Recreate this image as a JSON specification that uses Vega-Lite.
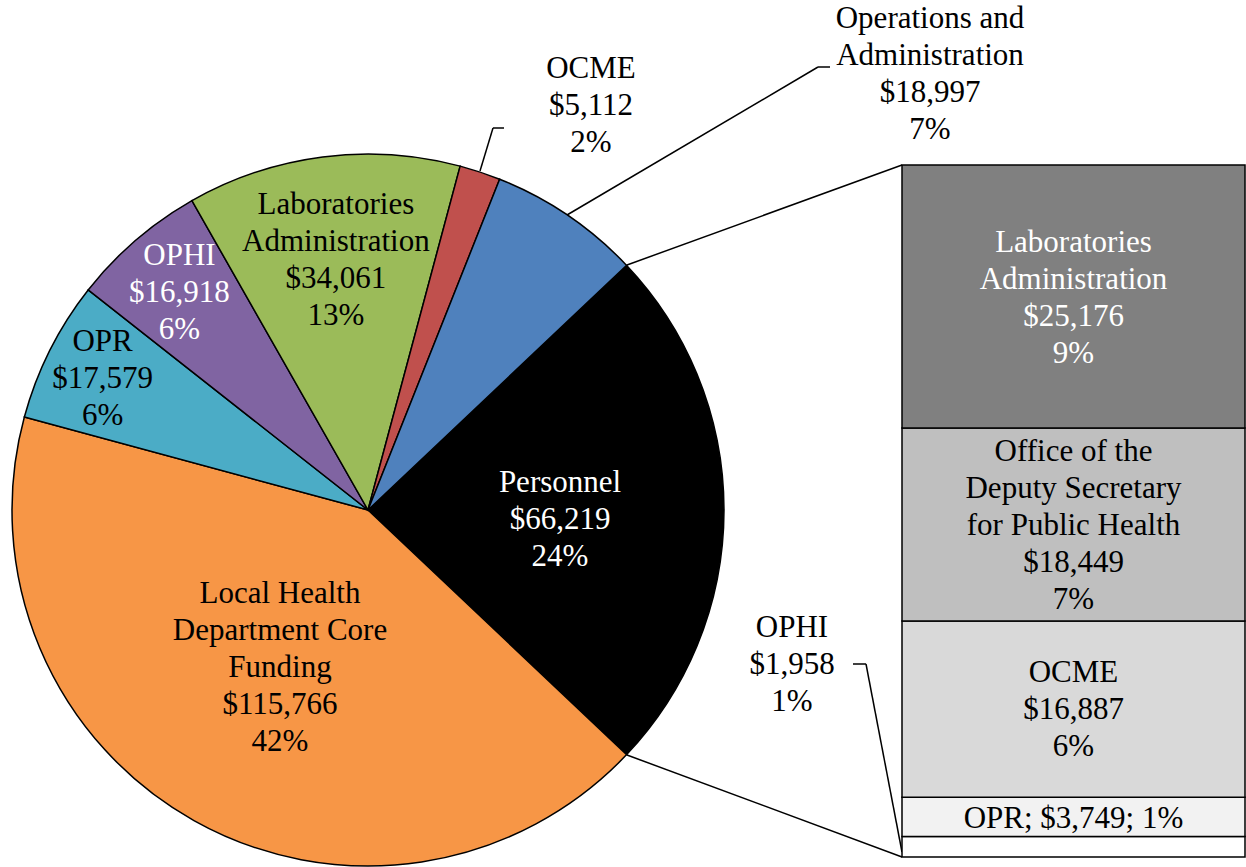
{
  "$schema": "https://vega.github.io/schema/vega-lite/v6.json",
  "width": 1246,
  "height": 867,
  "padding": 0,
  "autosize": {"type": "none"},
  "background": "white",
  "config": {
    "view": {"stroke": null},
    "text": {"font": "Liberation Serif", "fontSize": 31, "lineHeight": 37, "lineBreak": "\n"}
  },
  "datasets": {
    "pie": [
      {"cat": "Personnel", "name": "Personnel", "amount": 66219, "pct": "24%", "ord": 1},
      {"cat": "LHD", "name": "Local Health\nDepartment Core\nFunding", "amount": 115766, "pct": "42%", "ord": 2},
      {"cat": "OPR", "name": "OPR", "amount": 17579, "pct": "6%", "ord": 3},
      {"cat": "OPHI", "name": "OPHI", "amount": 16918, "pct": "6%", "ord": 4},
      {"cat": "Labs", "name": "Laboratories\nAdministration", "amount": 34061, "pct": "13%", "ord": 5},
      {"cat": "OCME", "name": "OCME", "amount": 5112, "pct": "2%", "ord": 6},
      {"cat": "Ops", "name": "Operations and\nAdministration", "amount": 18997, "pct": "7%", "ord": 7}
    ],
    "bar": [
      {"cat": "OPHI", "name": "OPHI", "amount": 1958, "pct": "1%", "ord": 1},
      {"cat": "OPR", "name": "OPR", "amount": 3749, "pct": "1%", "ord": 2},
      {"cat": "OCME", "name": "OCME", "amount": 16887, "pct": "6%", "ord": 3},
      {"cat": "ODS", "name": "Office of the\nDeputy Secretary\nfor Public Health", "amount": 18449, "pct": "7%", "ord": 4},
      {"cat": "Labs", "name": "Laboratories\nAdministration", "amount": 25176, "pct": "9%", "ord": 5}
    ]
  },
  "layer": [
    {
      "data": {"name": "pie"},
      "transform": [
        {"stack": "amount", "groupby": [], "sort": [{"field": "ord", "order": "ascending"}], "as": ["t0", "t1"]},
        {"calculate": "(datum.t0 + datum.t1) / 2", "as": "tm"},
        {"calculate": "datum.name + '\\n$' + format(datum.amount, ',') + '\\n' + datum.pct", "as": "label"}
      ],
      "layer": [
        {
          "mark": {"type": "arc", "radius": 356, "stroke": "#000000", "strokeWidth": 1.5},
          "encoding": {
            "theta": {"field": "t0", "type": "quantitative", "stack": null, "scale": {"domain": [0, 274652], "range": [0.813362, 7.096547], "nice": false, "zero": true}},
            "theta2": {"field": "t1"},
            "color": {"field": "cat", "type": "nominal", "legend": null,
              "scale": {"domain": ["Personnel", "LHD", "OPR", "OPHI", "Labs", "OCME", "Ops"],
                        "range": ["#000000", "#F79646", "#4BACC6", "#8064A2", "#9BBB59", "#C0504D", "#4F81BD"]}},
            "x": {"datum": 368, "type": "quantitative", "scale": {"domain": [0, 1246], "nice": false, "zero": false}, "axis": null},
            "y": {"datum": 510, "type": "quantitative", "scale": {"domain": [0, 867], "reverse": true, "nice": false, "zero": false}, "axis": null}
          }
        },
        {
          "transform": [{"filter": "datum.cat === 'Personnel'"}],
          "mark": {"type": "text", "radius": 192, "dy": -27, "color": "#FFFFFF"},
          "encoding": {
            "theta": {"field": "tm", "type": "quantitative"},
            "text": {"field": "label"},
            "x": {"datum": 368, "type": "quantitative"},
            "y": {"datum": 510, "type": "quantitative"}
          }
        },
        {
          "transform": [{"filter": "datum.cat === 'LHD'"}],
          "mark": {"type": "text", "radius": 180, "dy": -73, "color": "#000000"},
          "encoding": {
            "theta": {"field": "tm", "type": "quantitative"},
            "text": {"field": "label"},
            "x": {"datum": 368, "type": "quantitative"},
            "y": {"datum": 510, "type": "quantitative"}
          }
        },
        {
          "transform": [{"filter": "datum.cat === 'OPR'"}],
          "mark": {"type": "text", "radius": 297, "dy": -35, "color": "#000000"},
          "encoding": {
            "theta": {"field": "tm", "type": "quantitative"},
            "text": {"field": "label"},
            "x": {"datum": 368, "type": "quantitative"},
            "y": {"datum": 510, "type": "quantitative"}
          }
        },
        {
          "transform": [{"filter": "datum.cat === 'OPHI'"}],
          "mark": {"type": "text", "radius": 289, "dy": -35, "color": "#FFFFFF"},
          "encoding": {
            "theta": {"field": "tm", "type": "quantitative"},
            "text": {"field": "label"},
            "x": {"datum": 368, "type": "quantitative"},
            "y": {"datum": 510, "type": "quantitative"}
          }
        },
        {
          "transform": [{"filter": "datum.cat === 'Labs'"}],
          "mark": {"type": "text", "radius": 252, "dy": -55, "color": "#000000"},
          "encoding": {
            "theta": {"field": "tm", "type": "quantitative"},
            "text": {"field": "label"},
            "x": {"datum": 368, "type": "quantitative"},
            "y": {"datum": 510, "type": "quantitative"}
          }
        },
        {
          "transform": [{"filter": "datum.cat === 'OCME'"}],
          "mark": {"type": "text", "color": "#000000"},
          "encoding": {
            "text": {"field": "label"},
            "x": {"datum": 591, "type": "quantitative"},
            "y": {"datum": 69, "type": "quantitative"}
          }
        },
        {
          "transform": [{"filter": "datum.cat === 'Ops'"}],
          "mark": {"type": "text", "color": "#000000"},
          "encoding": {
            "text": {"field": "label"},
            "x": {"datum": 930, "type": "quantitative"},
            "y": {"datum": 19, "type": "quantitative"}
          }
        },
        {
          "data": {"name": "bar"},
          "transform": [
            {"filter": "datum.cat === 'OPHI'"},
            {"calculate": "datum.name + '\\n$' + format(datum.amount, ',') + '\\n' + datum.pct", "as": "label"}
          ],
          "mark": {"type": "text", "color": "#000000"},
          "encoding": {
            "text": {"field": "label"},
            "x": {"datum": 792, "type": "quantitative"},
            "y": {"datum": 628, "type": "quantitative"}
          }
        },
        {
          "data": {"values": [{}]},
          "mark": {"type": "rule", "color": "#000000", "strokeWidth": 1.5},
          "encoding": {"x": {"datum": 480, "type": "quantitative"}, "y": {"datum": 171, "type": "quantitative"}, "x2": {"datum": 493}, "y2": {"datum": 128}}
        },
        {
          "data": {"values": [{}]},
          "mark": {"type": "rule", "color": "#000000", "strokeWidth": 1.5},
          "encoding": {"x": {"datum": 493, "type": "quantitative"}, "y": {"datum": 128, "type": "quantitative"}, "x2": {"datum": 504}, "y2": {"datum": 128}}
        },
        {
          "data": {"values": [{}]},
          "mark": {"type": "rule", "color": "#000000", "strokeWidth": 1.5},
          "encoding": {"x": {"datum": 567, "type": "quantitative"}, "y": {"datum": 215, "type": "quantitative"}, "x2": {"datum": 818}, "y2": {"datum": 67}}
        },
        {
          "data": {"values": [{}]},
          "mark": {"type": "rule", "color": "#000000", "strokeWidth": 1.5},
          "encoding": {"x": {"datum": 818, "type": "quantitative"}, "y": {"datum": 67, "type": "quantitative"}, "x2": {"datum": 830}, "y2": {"datum": 67}}
        },
        {
          "data": {"values": [{}]},
          "mark": {"type": "rule", "color": "#000000", "strokeWidth": 1.5},
          "encoding": {"x": {"datum": 853, "type": "quantitative"}, "y": {"datum": 664, "type": "quantitative"}, "x2": {"datum": 866}, "y2": {"datum": 664}}
        },
        {
          "data": {"values": [{}]},
          "mark": {"type": "rule", "color": "#000000", "strokeWidth": 1.5},
          "encoding": {"x": {"datum": 866, "type": "quantitative"}, "y": {"datum": 664, "type": "quantitative"}, "x2": {"datum": 902}, "y2": {"datum": 852}}
        },
        {
          "data": {"values": [{}]},
          "mark": {"type": "rule", "color": "#000000", "strokeWidth": 1.5},
          "encoding": {"x": {"datum": 627, "type": "quantitative"}, "y": {"datum": 265, "type": "quantitative"}, "x2": {"datum": 902}, "y2": {"datum": 165}}
        },
        {
          "data": {"values": [{}]},
          "mark": {"type": "rule", "color": "#000000", "strokeWidth": 1.5},
          "encoding": {"x": {"datum": 627, "type": "quantitative"}, "y": {"datum": 755, "type": "quantitative"}, "x2": {"datum": 902}, "y2": {"datum": 857}}
        }
      ]
    },
    {
      "data": {"name": "bar"},
      "transform": [
        {"stack": "amount", "groupby": [], "sort": [{"field": "ord", "order": "ascending"}], "as": ["b0", "b1"]},
        {"calculate": "(datum.b0 + datum.b1) / 2", "as": "bm"},
        {"calculate": "datum.cat === 'OPR' ? datum.name + '; $' + format(datum.amount, ',') + '; ' + datum.pct : datum.name + '\\n$' + format(datum.amount, ',') + '\\n' + datum.pct", "as": "label"}
      ],
      "layer": [
        {
          "mark": {"type": "rect", "stroke": "#000000", "strokeWidth": 1.5},
          "encoding": {
            "x": {"datum": 902, "type": "quantitative", "scale": {"domain": [0, 1246], "nice": false, "zero": false}, "axis": null},
            "x2": {"datum": 1245},
            "y": {"field": "b0", "type": "quantitative", "scale": {"domain": [-956.9, 82008.2], "nice": false, "zero": false}, "axis": null},
            "y2": {"field": "b1"},
            "color": {"field": "cat", "type": "nominal", "legend": null,
              "scale": {"domain": ["Labs", "ODS", "OCME", "OPR", "OPHI"],
                        "range": ["#808080", "#BFBFBF", "#D9D9D9", "#F2F2F2", "#FFFFFF"]}}
          }
        },
        {
          "transform": [{"filter": "datum.cat === 'Labs'"}],
          "mark": {"type": "text", "dy": -54, "color": "#FFFFFF"},
          "encoding": {
            "x": {"datum": 1073.5, "type": "quantitative"},
            "y": {"field": "bm", "type": "quantitative"},
            "text": {"field": "label"}
          }
        },
        {
          "transform": [{"filter": "datum.cat === 'ODS'"}],
          "mark": {"type": "text", "dy": -72, "color": "#000000"},
          "encoding": {
            "x": {"datum": 1073.5, "type": "quantitative"},
            "y": {"field": "bm", "type": "quantitative"},
            "text": {"field": "label"}
          }
        },
        {
          "transform": [{"filter": "datum.cat === 'OCME'"}],
          "mark": {"type": "text", "dy": -36, "color": "#000000"},
          "encoding": {
            "x": {"datum": 1073.5, "type": "quantitative"},
            "y": {"field": "bm", "type": "quantitative"},
            "text": {"field": "label"}
          }
        },
        {
          "transform": [{"filter": "datum.cat === 'OPR'"}],
          "mark": {"type": "text", "dy": 2, "color": "#000000"},
          "encoding": {
            "x": {"datum": 1073.5, "type": "quantitative"},
            "y": {"field": "bm", "type": "quantitative"},
            "text": {"field": "label"}
          }
        }
      ]
    }
  ],
  "resolve": {"scale": {"y": "independent", "color": "independent"}}
}
